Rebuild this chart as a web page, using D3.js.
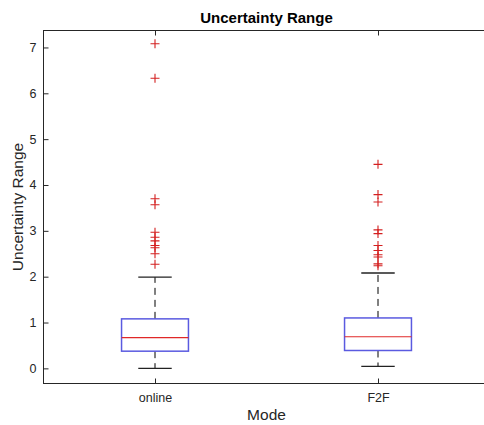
<!DOCTYPE html>
<html><head><meta charset="utf-8">
<script src="https://cdn.jsdelivr.net/npm/d3@7"></script>
<style>body{margin:0;background:#fff}</style>
</head><body>
<svg id="chart" width="484" height="425"></svg>
<script>
const categories = ["online", "F2F"];
const q1 = [0.375, 0.39];
const medians = [0.67, 0.69];
const q3 = [1.08, 1.10];
const whiskerLow = [0.0, 0.045];
const whiskerHigh = [1.99, 2.08];
const outliersOnline = [7.08, 6.33, 3.70, 3.57, 2.97, 2.86, 2.78, 2.68, 2.63, 2.50, 2.27];
const outliersF2F = [4.45, 3.79, 3.63, 3.02, 2.94, 2.68, 2.57, 2.48, 2.43, 2.28, 2.24];
const outliers = [outliersOnline, outliersF2F];
const yTicks = [0, 1, 2, 3, 4, 5, 6, 7];

const svg = d3.select("#chart");
svg.append("rect").attr("width", 484).attr("height", 425).attr("fill", "#fff");
const L = 43.5, R = 489.5, T = 30.5, B = 383.5;
const x = d3.scaleLinear().domain([0.5, 2.5]).range([L, R]);
const y = d3.scaleLinear().domain([-0.33, 7.37]).range([B, T]);
const axisColor = "#262626";
const font = "'Liberation Sans', Arial, Helvetica, sans-serif";

// frame
svg.append("rect").attr("x", L).attr("y", T).attr("width", R - L).attr("height", B - T)
  .attr("fill", "none").attr("stroke", axisColor).attr("stroke-width", 1);

// y axis (left), inward ticks
const yAxis = d3.axisLeft(y).tickValues(yTicks).tickSizeInner(-5).tickSizeOuter(0).tickPadding(7);
const ya = svg.append("g").attr("transform", `translate(${L},0)`).call(yAxis);
ya.select(".domain").remove();
ya.selectAll("line").attr("stroke", axisColor);
ya.selectAll("text").attr("font-family", font).attr("font-size", 12.5).attr("fill", axisColor);
// right inward ticks
const yr = svg.append("g").attr("transform", `translate(${R},0)`).call(d3.axisRight(y).tickValues(yTicks).tickSizeInner(-5).tickSizeOuter(0).tickFormat(""));
yr.select(".domain").remove();
yr.selectAll("line").attr("stroke", axisColor);

// x axis bottom
const xAxis = d3.axisBottom(x).tickValues([1, 2]).tickFormat((d) => categories[d - 1]).tickSizeInner(-5).tickSizeOuter(0).tickPadding(10);
const xa = svg.append("g").attr("transform", `translate(0,${B})`).call(xAxis);
xa.select(".domain").remove();
xa.selectAll("line").attr("stroke", axisColor);
xa.selectAll("text").attr("font-family", font).attr("font-size", 12.5).attr("fill", axisColor);
const xt = svg.append("g").attr("transform", `translate(0,${T})`).call(d3.axisTop(x).tickValues([1, 2]).tickSizeInner(-5).tickSizeOuter(0).tickFormat(""));
xt.select(".domain").remove();
xt.selectAll("line").attr("stroke", axisColor);

// boxes
const boxHalf = 0.15, capHalf = 0.075;
categories.forEach((c, i) => {
  const cx = x(i + 1);
  const bg = svg.append("g");
  bg.append("line").attr("x1", cx).attr("x2", cx).attr("y1", y(q3[i])).attr("y2", y(whiskerHigh[i]))
    .attr("stroke", "#000").attr("stroke-dasharray", "7,5");
  bg.append("line").attr("x1", cx).attr("x2", cx).attr("y1", y(q1[i])).attr("y2", y(whiskerLow[i]))
    .attr("stroke", "#000").attr("stroke-dasharray", "7,5");
  [whiskerHigh[i], whiskerLow[i]].forEach(v => {
    bg.append("line").attr("x1", x(i + 1 - capHalf)).attr("x2", x(i + 1 + capHalf))
      .attr("y1", y(v)).attr("y2", y(v)).attr("stroke", "#222").attr("stroke-width", 1.3);
  });
  bg.append("rect").attr("x", x(i + 1 - boxHalf)).attr("width", x(i + 1 + boxHalf) - x(i + 1 - boxHalf))
    .attr("y", y(q3[i])).attr("height", y(q1[i]) - y(q3[i]))
    .attr("fill", "none").attr("stroke", "#5a5ae0").attr("stroke-width", 1.5);
  bg.append("line").attr("x1", x(i + 1 - boxHalf)).attr("x2", x(i + 1 + boxHalf))
    .attr("y1", y(medians[i])).attr("y2", y(medians[i])).attr("stroke", "#e02828").attr("stroke-width", 1.2);
  outliers[i].forEach(v => {
    const py = y(v);
    bg.append("path").attr("d", `M${cx - 4.5},${py}H${cx + 4.5}M${cx},${py - 4.5}V${py + 4.5}`)
      .attr("stroke", "#d42020").attr("stroke-width", 1.1).attr("fill", "none");
  });
});

// title and labels
svg.append("text").attr("x", (L + R) / 2).attr("y", 23).attr("text-anchor", "middle")
  .attr("font-family", font).attr("font-weight", "bold").attr("font-size", 15).attr("fill", "#000")
  .text("Uncertainty Range");
svg.append("text").attr("x", (L + R) / 2).attr("y", 420).attr("text-anchor", "middle")
  .attr("font-family", font).attr("font-size", 15.5).attr("fill", axisColor).text("Mode");
svg.append("text").attr("transform", `translate(23,${(T + B) / 2}) rotate(-90)`).attr("text-anchor", "middle")
  .attr("font-family", font).attr("font-size", 15.5).attr("fill", axisColor).text("Uncertainty Range");
</script>
</body></html>
